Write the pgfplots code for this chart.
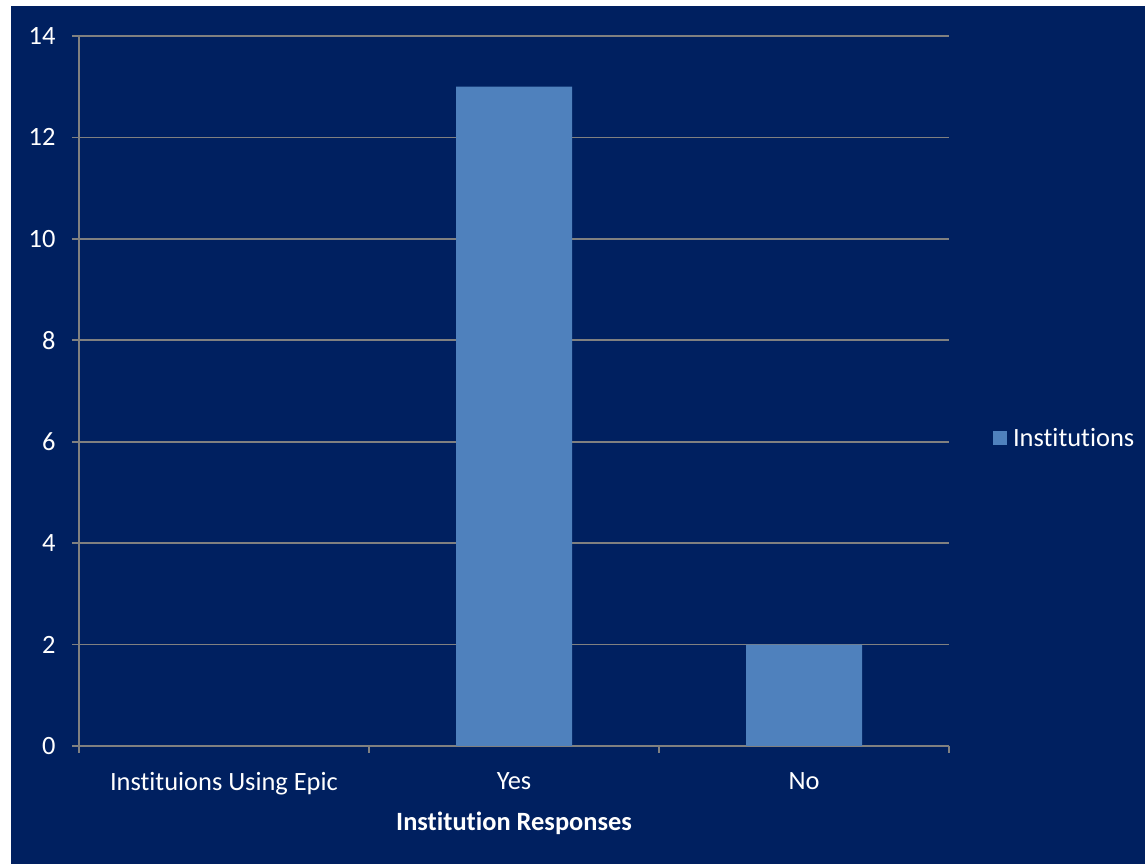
\documentclass[border=0pt]{standalone}
\usepackage{fontspec}
\setmainfont[Ligatures=NoCommon]{Carlito}
\usepackage{pgfplots}
\pgfplotsset{compat=1.18}
\definecolor{navybg}{RGB}{0,32,96}
\definecolor{barblue}{RGB}{79,129,189}
\definecolor{gridgray}{RGB}{128,128,128}
\begin{document}
\begin{tikzpicture}
\useasboundingbox (0,0) rectangle (1145bp,864bp);
\fill[white] (0,0) rectangle (1145bp,864bp);
\fill[navybg] (11bp,0) rectangle (1145bp,858bp);
\begin{axis}[
    at={(79bp,118bp)}, anchor=south west,
    scale only axis,
    width=870bp, height=710bp,
    ybar, bar width=116bp,
    xmin=-0.5, xmax=2.5,
    ymin=0, ymax=14,
    ytick={0,2,...,14},
    xtick={0,1,2},
    xticklabels={Instituions Using Epic, Yes, No},
    minor xtick={-0.5,0.5,1.5,2.5},
    axis lines=left,
    axis line style={-, draw=gridgray, line width=1.6bp},
    ymajorgrids, major grid style={draw=gridgray, line width=1.6bp},
    major x tick style={draw=none},
    minor x tick style={draw=gridgray, line width=1.6bp},
    major y tick style={draw=gridgray, line width=1.6bp},
    tick align=outside,
    major tick length=7bp, minor tick length=7bp,
    ticklabel style={font=\fontsize{26.5}{30}\selectfont, text=white},
    yticklabel style={xshift=-13bp},
    xticklabel style={yshift=-16bp},
    /pgf/number format/assume math mode=true,
    xlabel={Institution Responses},
    xlabel style={font=\fontsize{26.5}{30}\selectfont\bfseries, text=white, yshift=-10bp},
    legend style={at={(1.047,0.434)}, anchor=west, draw=none, fill=none,
        text=white, font=\fontsize{26.5}{30}\selectfont,
        nodes={inner xsep=6bp}},
    legend image code/.code={\fill[barblue] (0bp,-7bp) rectangle (14bp,7bp);},
]
\addplot[fill=barblue, draw=none] coordinates {(0,0) (1,13) (2,2)};
\legend{Institutions}
\end{axis}
\end{tikzpicture}
\end{document}
